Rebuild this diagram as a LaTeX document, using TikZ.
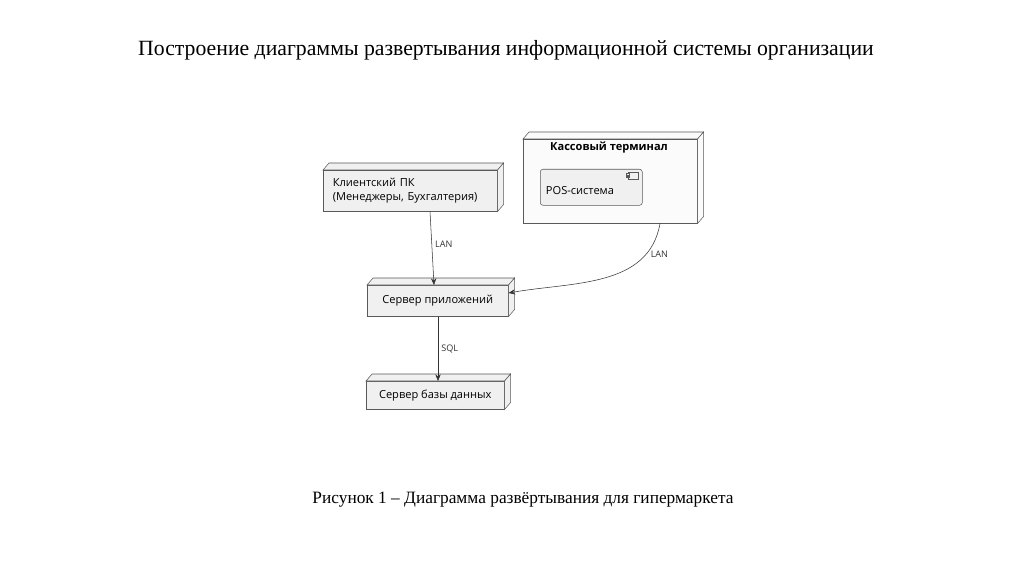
\documentclass[tikz,border=0pt]{standalone}
\usepackage{fontspec}
\setmainfont{Liberation Serif}
\newfontfamily\umlfont{Open Sans}
\usetikzlibrary{arrows.meta}

\tikzset{
  devbox/.style={draw=gray!70!black, fill=gray!12, inner sep=0pt, font=\umlfont\fontsize{8.3}{10.5}\selectfont},
  conn/.style={-{Stealth[length=5pt,width=4pt]}, draw=black!80, thin},
  connlabel/.style={font=\umlfont\fontsize{6.8}{8}\selectfont, text=black!80}
}

\begin{document}
\begin{tikzpicture}[x=0.75pt,y=-0.75pt]
\useasboundingbox (0,0) rectangle (1024,574);

% Title and caption
\node (title) at (506,50) {\fontsize{16.3}{19}\selectfont Построение диаграммы развертывания информационной системы организации};
\node (caption) at (523,500) {\fontsize{13}{15}\selectfont Рисунок 1 -- Диаграмма развёртывания для гипермаркета};

% Nodes (front faces)
\node[devbox, minimum width=174*0.75pt, minimum height=41*0.75pt, anchor=north west,
      align=left, text width=155*0.75pt] (client) at (323,170)
      {Клиентский ПК\\(Менеджеры, Бухгалтерия)};
\node[devbox, fill=gray!3, minimum width=174*0.75pt, minimum height=84*0.75pt, anchor=north west] (term) at (523,139) {};
\node[font=\umlfont\bfseries\fontsize{8.3}{10.5}\selectfont] (termlabel) at (609,148) {Кассовый терминал};
\node[devbox, rounded corners=2pt, minimum width=102*0.75pt, minimum height=36*0.75pt, anchor=north west] (pos) at (540,169) {};
\node[font=\umlfont\fontsize{8.3}{10.5}\selectfont] (poslabel) at (580,191) {POS-система};
\node[devbox, minimum width=141*0.75pt, minimum height=31*0.75pt, anchor=north west] (app) at (367,285) {Сервер приложений};
\node[devbox, minimum width=138*0.75pt, minimum height=28*0.75pt, anchor=north west] (db) at (366,381) {Сервер базы данных};

% Component icon
\draw[gray!70!black, fill=gray!12] (628,172) rectangle (638,179);
\draw[gray!70!black, fill=gray!12] (626,173.5) rectangle (629,175);
\draw[gray!70!black, fill=gray!12] (626,176) rectangle (629,177.5);

% 3D depth
\foreach \n/\f in {client/gray!12, term/gray!3, app/gray!12, db/gray!12} {
  \draw[gray!70!black, fill=\f] (\n.north west) -- ++(6,-7) -- ([shift={(6,-7)}]\n.north east) -- (\n.north east) -- cycle;
  \draw[gray!70!black, fill=\f] (\n.north east) -- ++(6,-7) -- ([shift={(6,-7)}]\n.south east) -- (\n.south east) -- cycle;
}

% Connectors
\draw[conn] (client.south -| 430,0) -- (app.north -| 434,0) node[connlabel, pos=0.45, right=-1pt] {LAN};
\draw[conn] (term.south -| 660,0) to[out=-100, in=10]
  node[connlabel, pos=0.2, right=0pt] {LAN} (app.east |- 0,293);
\draw[conn] (app.south -| 438,0) -- (db.north -| 438,0) node[connlabel, midway, right=-1pt] {SQL};

\end{tikzpicture}
\end{document}
